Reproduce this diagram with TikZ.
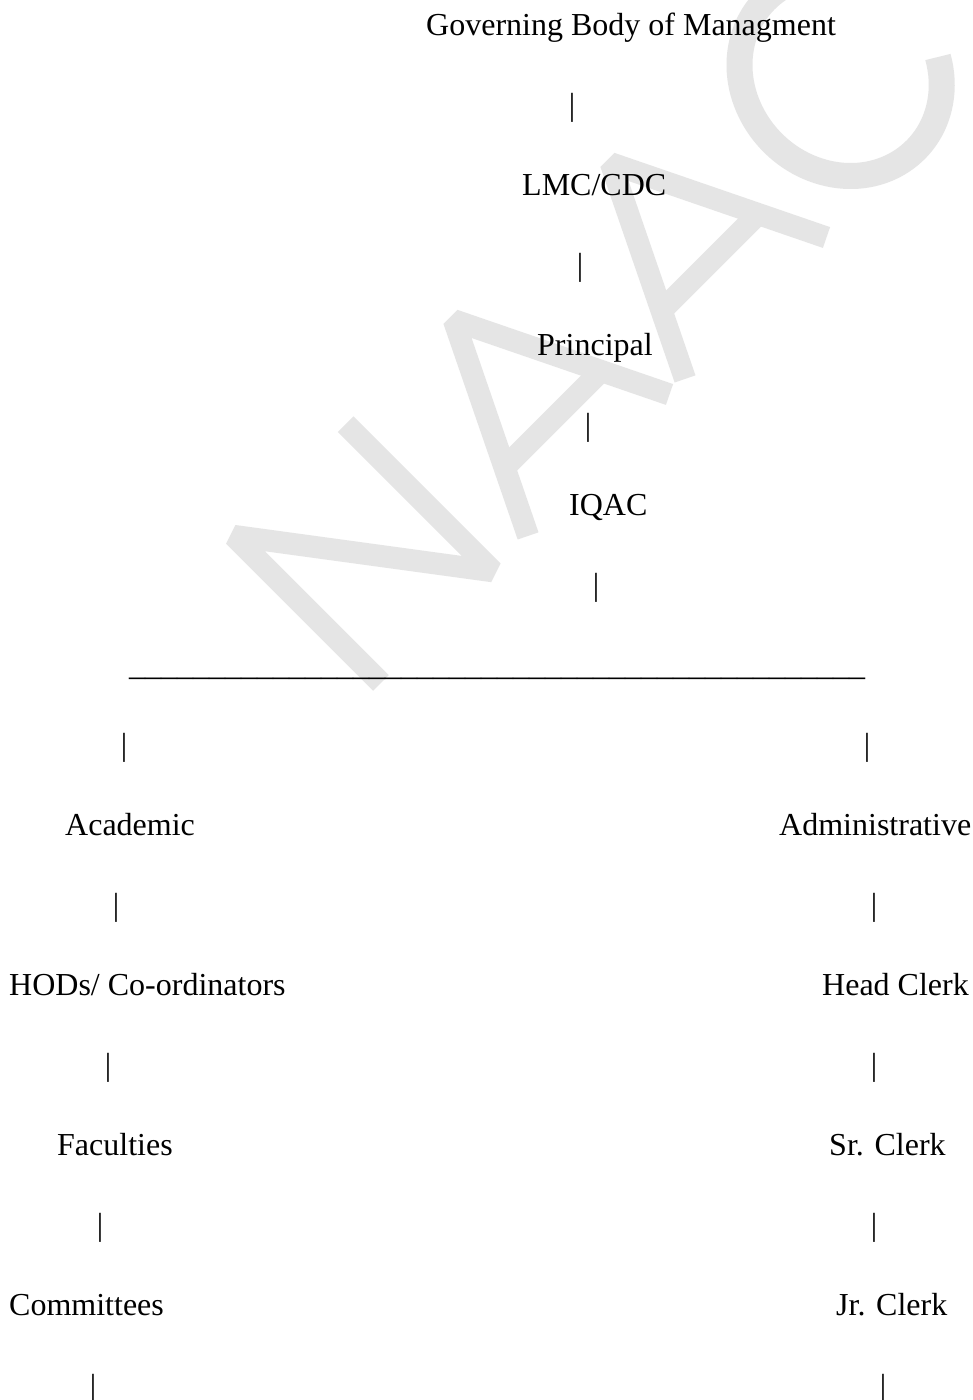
\documentclass[tikz,border=0pt]{standalone}
\usepackage{fontspec}
\setmainfont{Liberation Serif}
\begin{document}
\begin{tikzpicture}[x=1pt,y=1pt,
  lbl/.style={anchor=base west,inner sep=0pt,font=\fontsize{32}{38}\selectfont},
  barc/.style={anchor=base,inner sep=0pt,font=\fontsize{32}{38}\selectfont},
  wm/.style={draw=black!10,line width=22pt,line join=miter,miter limit=1.6}]
\useasboundingbox (0,0) rectangle (973,1400);
\fill[white] (0,0) rectangle (973,1400);
\clip (0,0) rectangle (973,1400);
% watermark
\begin{scope}[shift={(381,717)},rotate=45]
  \draw[wm] (0,0) -- (0,208) -- (158,0) -- (158,208);
  \draw[wm] (208,0) -- (308,205) -- (408,0);
  \draw[wm] (240,65) -- (376,65);
  \draw[wm] (430,0) -- (530,205) -- (630,0);
  \draw[wm] (462,65) -- (598,65);
  \draw[wm,line width=26pt] (755,105) ++(32:96 and 106) arc[start angle=32,end angle=328,x radius=96,y radius=106];
\end{scope}
% chart text
\node[lbl] (gov) at (426,1364) {Governing Body of Managment};
\node[barc] (b1) at (572,1284) {|};
\node[lbl] (lmc) at (522,1204) {LMC/CDC};
\node[barc] (b2) at (580,1124) {|};
\node[lbl] (pri) at (537,1044) {Principal};
\node[barc] (b3) at (588,964) {|};
\node[lbl] (iqac) at (569,884) {IQAC};
\node[barc] (b4) at (596,804) {|};
\node[lbl] (rule) at (129,724) {\_\_\_\_\_\_\_\_\_\_\_\_\_\_\_\_\_\_\_\_\_\_\_\_\_\_\_\_\_\_\_\_\_\_\_\_\_\_\_\_\_\_\_\_\_\_};
\node[barc] (b5) at (124,644) {|};
\node[barc] (b6) at (867,644) {|};
\node[lbl] (acad) at (65,564) {Academic};
\node[lbl] (admin) at (779,564) {Administrative};
\node[barc] (b7) at (116,484) {|};
\node[barc] (b8) at (874,484) {|};
\node[lbl] (hod) at (9,404) {HODs/ Co-ordinators};
\node[lbl] (hc) at (822,404) {Head Clerk};
\node[barc] (b9) at (108,324) {|};
\node[barc] (b10) at (874,324) {|};
\node[lbl] (fac) at (57,244) {Faculties};
\node[lbl] (sr) at (829,244) {Sr. Clerk};
\node[barc] (b11) at (100,164) {|};
\node[barc] (b12) at (874,164) {|};
\node[lbl] (com) at (9,84) {Committees};
\node[lbl] (jr) at (836,84) {Jr. Clerk};
\node[barc] (b13) at (93,4) {|};
\node[barc] (b14) at (883,4) {|};
\end{tikzpicture}
\end{document}
